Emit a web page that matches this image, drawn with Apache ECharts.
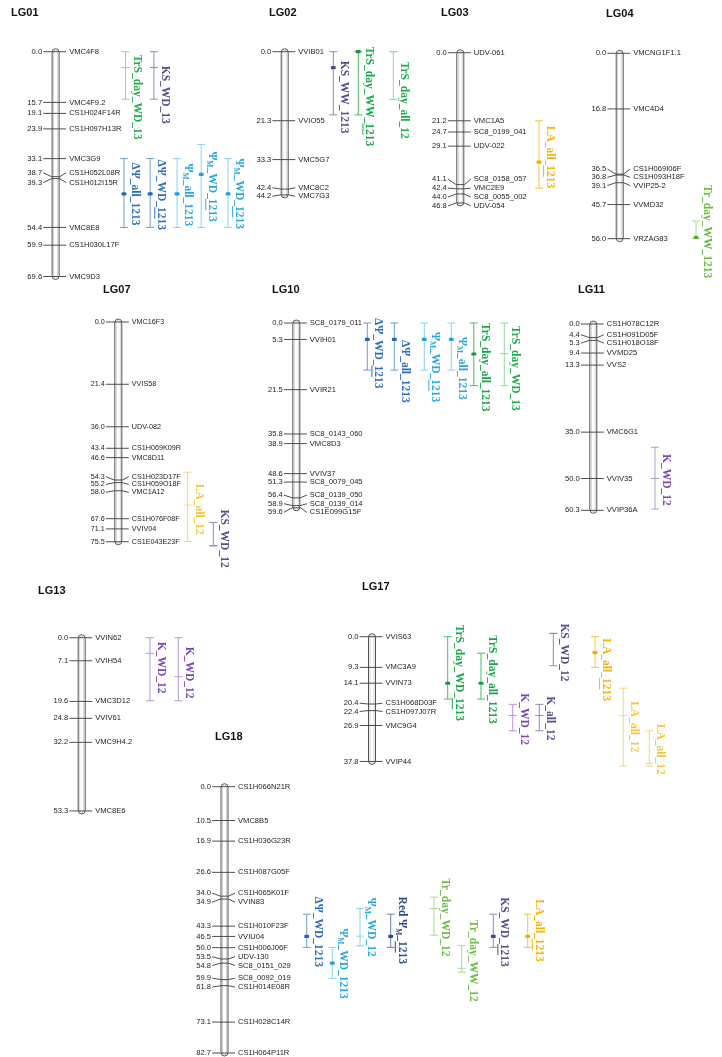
<!DOCTYPE html>
<html><head><meta charset="utf-8">
<script src="https://cdn.jsdelivr.net/npm/echarts@6/dist/echarts.min.js"></script>
<style>html,body{margin:0;padding:0;background:#fff}#c{width:722px;height:1057px}</style>
</head><body><div id="c"></div>
<script>
// ---------------- DATA ----------------
const LG_NAMES = ['LG01','LG02','LG03','LG04','LG07','LG10','LG11','LG13','LG17','LG18'];

const LG01_pos = [0.0,15.7,19.1,23.9,33.1,38.7,39.3,54.4,59.9,69.6];
const LG01_mk  = ['VMC4F8','VMC4F9.2','CS1H024F14R','CS1H097H13R','VMC3G9','CS1H052L08R','CS1H012I15R','VMC8E8','CS1H030L17F','VMC9D3'];
const LG01_qtl = [['TrS_day_WD_13',0.0,4.9,14.7],['KS_WD_13',0.0,4.9,14.7],['ΔΨ_all_1213',33.1,44.0,54.4],['ΔΨ_WD_1213',33.1,44.0,54.4],['ΨM_all_1213',33.1,44.0,54.4],['ΨM_WD_1213',28.7,38.0,54.4],['ΨM_WD_1213',33.1,44.0,54.4]];

const LG02_pos = [0.0,21.3,33.3,42.4,44.2];
const LG02_mk  = ['VVIB01','VVIO55','VMC5G7','VMC8C2','VMC7G3'];
const LG02_qtl = [['KS_WW_1213',0.0,4.9,19.5],['TrS_day_WW_1213',0.0,0.0,19.5],['TrS_day_all_12',0.0,0.0,14.7]];

const LG03_pos = [0.0,21.2,24.7,29.1,41.1,42.4,44.0,46.8];
const LG03_mk  = ['UDV-061','VMC1A5','SC8_0199_041','UDV-022','SC8_0158_057','VMC2E9','SC8_0055_002','UDV-054'];
const LG03_qtl = [['LA_all_1213',21.2,34.1,42.2]];

const LG04_pos = [0.0,16.8,36.5,36.8,39.1,45.7,56.0];
const LG04_mk  = ['VMCNG1F1.1','VMC4D4','CS1H069I06F','CS1H093H18F','VVIP25-2','VVMD32','VRZAG83'];
const LG04_qtl = [['Tr_day_WW_1213',50.7,55.6,56.0]];

const LG07_pos = [0.0,21.4,36.0,43.4,46.6,54.3,55.2,58.0,67.6,71.1,75.5];
const LG07_mk  = ['VMC16F3','VVIS58','UDV-082','CS1H069K09R','VMC8D11','CS1H023D17F','CS1H059O18F','VMC1A12','CS1H076F08F','VVIV04','CS1E043E23F'];
const LG07_qtl = [['LA_all_12',51.6,62.9,75.4],['KS_WD_12',68.9,76.9,76.9]];

const LG10_pos = [0.0,5.3,21.5,35.8,38.9,48.6,51.3,56.4,58.9,59.6];
const LG10_mk  = ['SC8_0179_011','VVIH01','VVIR21','SC8_0143_060','VMC8D3','VVIV37','SC8_0079_045','SC8_0139_050','SC8_0139_014','CS1E099G15F'];
const LG10_qtl = [['ΔΨ_WD_1213',0.0,5.3,15.2],['ΔΨ_all_1213',0.0,5.3,15.2],['ΨM_WD_1213',0.0,5.3,15.2],['ΨM_all_1213',0.0,5.3,15.2],['TrS_day_all_1213',0.0,10.0,20.2],['TrS_day_WD_13',0.0,9.9,20.2]];

const LG11_pos = [0.0,4.4,5.3,9.4,13.3,35.0,50.0,60.3];
const LG11_mk  = ['CS1H078C12R','CS1H091D05F','CS1H018O18F','VVMD25','VVS2','VMC6G1','VVIV35','VVIP36A'];
const LG11_qtl = [['K_WD_12',39.9,50.0,59.9]];

const LG13_pos = [0.0,7.1,19.6,24.8,32.2,53.3];
const LG13_mk  = ['VVIN62','VVIH54','VMC3D12','VVIV61','VMC9H4.2','VMC8E6'];
const LG13_qtl = [['K_WD_12',0.0,4.8,19.4],['K_WD_12',0.0,12.0,19.4]];

const LG17_pos = [0.0,9.3,14.1,20.4,22.4,26.9,37.8];
const LG17_mk  = ['VVIS63','VMC3A9','VVIN73','CS1H068D03F','CS1H097J07R','VMC9G4','VVIP44'];
const LG17_qtl = [['TrS_day_WD_1213',0.0,14.1,18.9],['TrS_day_all_1213',5.0,14.1,18.9],['K_WD_12',20.5,23.9,28.5],['K_all_12',20.5,23.9,28.5],['KS_WD_12',-1.0,-1.0,8.8],['LA_all_1213',0.0,4.8,9.3],['LA_all_12',15.6,23.9,39.2],['LA_all_12',28.5,38.4,39.2]];

const LG18_pos = [0.0,10.5,16.9,26.6,34.0,34.9,43.3,46.5,50.0,53.5,54.8,59.9,61.8,73.1,82.7];
const LG18_mk  = ['CS1H066N21R','VMC8B5','CS1H036G23R','CS1H087G05F','CS1H065K01F','VVIN83','CS1H010F23F','VVIU04','CS1H006J06F','UDV-130','SC8_0151_029','SC8_0092_019','CS1H014E08R','CS1H028C14R','CS1H064P11R'];
const LG18_qtl = [['ΔΨ_WD_1213',39.6,46.5,49.9],['ΨM_WD_1213',49.9,54.8,59.5],['ΨM_WD_12',37.8,46.4,49.4],['Red ΨM_1213',39.6,46.5,49.9],['Tr_day_WD_12',34.3,37.8,46.1],['Tr_day_WW_12',49.4,56.4,57.6],['KS_WD_1213',39.6,46.5,49.9],['LA_all_1213',39.6,46.5,49.9]];

const GROUPS = [
  {name:'LG01',pos:LG01_pos,markers:LG01_mk,qtl:LG01_qtl},
  {name:'LG02',pos:LG02_pos,markers:LG02_mk,qtl:LG02_qtl},
  {name:'LG03',pos:LG03_pos,markers:LG03_mk,qtl:LG03_qtl},
  {name:'LG04',pos:LG04_pos,markers:LG04_mk,qtl:LG04_qtl},
  {name:'LG07',pos:LG07_pos,markers:LG07_mk,qtl:LG07_qtl},
  {name:'LG10',pos:LG10_pos,markers:LG10_mk,qtl:LG10_qtl},
  {name:'LG11',pos:LG11_pos,markers:LG11_mk,qtl:LG11_qtl},
  {name:'LG13',pos:LG13_pos,markers:LG13_mk,qtl:LG13_qtl},
  {name:'LG17',pos:LG17_pos,markers:LG17_mk,qtl:LG17_qtl},
  {name:'LG18',pos:LG18_pos,markers:LG18_mk,qtl:LG18_qtl}
];

// ---------------- LAYOUT (positions / styles) ----------------
// cx: chromosome centre x, y0: top (0 cM) y, k: px per cM, gap: label spacing, fs: marker font size
// qtl: [column offset from chromosome, label offset from bar top, peak drawn as dot, underline]
const LAYOUT = {
  LG01:{cx:32.3,y0:51.7,k:3.23,gap:9.8,fs:7.6,title:[11,13.3],
        qtl:[[75.4,3,false,false],[106,14,false,false],[73.7,4,true,false],[102,1,true,true],[131,5,true,false],[157,7,true,true],[186,0,true,true]]},
  LG02:{cx:284.7,y0:51.7,k:3.24,gap:8.4,fs:7.6,title:[269,13.3],
        qtl:[[48.6,9,true,false],[73.6,-5,true,true],[108.6,10,false,false]]},
  LG03:{cx:460.3,y0:52.7,k:3.21,gap:8.9,fs:7.6,title:[441,13.3],
        qtl:[[78.7,5,true,true]]},
  LG04:{cx:619.7,y0:53.3,k:3.31,gap:8.3,fs:7.6,title:[606,13.5],
        qtl:[[76.3,-36,true,false]]},
  LG07:{cx:118.3,y0:322,k:2.91,gap:7.8,fs:7.2,title:[103,289.5],
        qtl:[[69.4,11.6,false,false],[95,-13,false,false]]},
  LG10:{cx:296.3,y0:323,k:3.10,gap:8.6,fs:7.6,title:[272,289.5],
        qtl:[[71,-5,true,true],[98,17,true,false],[128,9,true,true],[155,14,true,false],[177.5,0,true,false],[208,3,false,false]]},
  LG11:{cx:593.3,y0:324,k:3.09,gap:8.4,fs:7.6,title:[578,289.5],
        qtl:[[61.7,6.7,false,false]]},
  LG13:{cx:81.7,y0:637.7,k:3.25,gap:8.5,fs:7.6,title:[38,591],
        qtl:[[68.3,4,false,false],[96.6,9,false,false]]},
  LG17:{cx:372,y0:636.7,k:3.30,gap:8.3,fs:7.6,title:[362,587.3],
        qtl:[[75.7,-12,true,true],[109,-18,true,false],[140.7,-11,false,false],[167.3,-8,false,false],[181.3,-10,false,false],[223,1.6,true,true],[251.3,13,false,false],[277.3,-7,false,false]]},
  LG18:{cx:224.5,y0:786.7,k:3.22,gap:9,fs:7.6,title:[215,737],
        qtl:[[82.2,-17.6,true,false],[107.8,-19,true,false],[135.5,-10.6,false,false],[166.2,-17.6,true,true],[209.5,-19,false,false],[237.2,-25.7,false,false],[268.8,-17,true,true],[303.2,-15,true,true]]}
};
const CANVAS_W = 722;

const SANS = "'Liberation Sans', Arial, sans-serif";
const SERIF = "'Liberation Serif', 'Times New Roman', serif";
const QFS = 11.5, SUBFS = 7.5, QFW = 'bold';

function qtlColors(name){
  if (name.startsWith('TrS')) return name.endsWith('1213') ? {t:'#19a848',l:'#4cba66',d:'#139a3f'} : {t:'#22ad4d',l:'#95d6a3',d:'#22ad4d'};
  if (name.startsWith('Tr_')) return {t:'#6cbd45',l:'#a9da8e',d:'#5caf36'};
  if (name.startsWith('KS')) return {t:'#5b4a8b',l:'#9486bd',d:'#56457f'};
  if (name.startsWith('K_')) return name.indexOf('WD')>=0 ? {t:'#7a47b6',l:'#b398d7',d:'#7a47b6'} : {t:'#5b4a8b',l:'#9486bd',d:'#5b4a8b'};
  if (name.startsWith('ΔΨ')) return {t:'#2d6fbe',l:'#6d9bd4',d:'#2566b3'};
  if (name.startsWith('Red')) return {t:'#2c4d85',l:'#6a82ab',d:'#2c4d85'};
  if (name.startsWith('Ψ')) return {t:'#29a8e0',l:'#8fd0ef',d:'#22a0dc'};
  if (name.startsWith('LA')) return name.endsWith('1213') ? {t:'#f5b40a',l:'#f6c43c',d:'#f2ab00'} : {t:'#f8c73b',l:'#f9d67c',d:'#f8c73b'};
  return {t:'#333',l:'#999',d:'#333'};
}

const measCtx = document.createElement('canvas').getContext('2d');
function tw(s, size){ measCtx.font = QFW + ' ' + size + 'px ' + SERIF; return measCtx.measureText(s).width; }

// split a QTL name into text pieces: [text, fontSize, isSubscript]
function labelPieces(name){
  const i = name.indexOf('ΨM');
  if (i < 0) return [[name, QFS, false]];
  return [[name.slice(0,i+1), QFS, false], ['M', SUBFS, true], [name.slice(i+2), QFS, false]];
}

function spread(ys, gap){
  let cl = ys.map((y,i)=>({ys:[y], idx:[i], top:y}));
  let changed = true;
  while (changed){
    changed = false;
    for (let c=0;c<cl.length-1;c++){
      const a=cl[c], b=cl[c+1];
      if (a.top + a.ys.length*gap > b.top + 0.01){
        const ys2 = a.ys.concat(b.ys);
        const mean = ys2.reduce((s,v)=>s+v,0)/ys2.length;
        cl.splice(c,2,{ys:ys2, idx:a.idx.concat(b.idx), top: mean-(ys2.length-1)*gap/2});
        changed = true; break;
      }
    }
  }
  const out = [];
  cl.forEach(c=>c.idx.forEach((id,j)=>{ out[id] = c.top + j*gap; }));
  return out;
}

const grids=[], xAxes=[], yAxes=[], series=[], graphics=[];
GROUPS.forEach((g,gi)=>{
  const L = LAYOUT[g.name];
  const len = g.pos[g.pos.length-1];
  const left = L.cx - 60;
  const w = Math.min(380, CANVAS_W - 1 - left);   // 1 x-unit = 1 px
  grids.push({left:left, top:L.y0, width:w, height:len*L.k});
  xAxes.push({gridIndex:gi, type:'value', min:-60, max:-60+w, show:false});
  yAxes.push({gridIndex:gi, type:'value', inverse:true, min:0, max:len, show:false});
  graphics.push({type:'text', x:L.title[0], y:L.title[1], style:{text:g.name, fontSize:11, fontWeight:'bold', fontFamily:SANS, fill:'#111', verticalAlign:'middle'}});

  // chromosome body
  series.push({type:'custom', name:g.name+' chromosome', xAxisIndex:gi, yAxisIndex:gi, silent:true,
    data:[[0,0,len]],
    renderItem:(p,api)=>{
      const a = api.coord([0,0]), b = api.coord([0,len]);
      return {type:'group', children:[
        {type:'rect', shape:{x:a[0]-3.5, y:a[1]-3, width:7, height:b[1]-a[1]+6, r:3.5},
              style:{fill:'#fff', stroke:'#555', lineWidth:1}},
        {type:'rect', shape:{x:a[0]-2, y:a[1]-1.5, width:4, height:b[1]-a[1]+3, r:2},
              style:{fill:null, stroke:'#c8c8c8', lineWidth:0.8}}
      ]};
    }});

  // markers
  series.push({type:'custom', name:g.name+' markers', xAxisIndex:gi, yAxisIndex:gi, silent:true,
    data:g.pos.map(v=>[0,v]),
    renderItem:(p,api)=>{
      const i = p.dataIndex;
      const ys = g.pos.map(v=>api.coord([0,v])[1]);
      const ly = spread(ys, L.gap);
      const c = api.coord([0,g.pos[i]]);
      const cx=c[0], y=c[1], yl=ly[i];
      return {type:'group', children:[
        {type:'polyline', shape:{points:[[cx-12.3,yl],[cx-4,y],[cx+4,y],[cx+10.5,yl]]}, style:{stroke:'#3a3a3a', lineWidth:0.9, fill:null}},
        {type:'text', x:cx-13.5, y:yl, style:{text:g.pos[i].toFixed(1), align:'right', verticalAlign:'middle', fontSize:L.fs, fontFamily:SANS, fill:'#222'}},
        {type:'text', x:cx+13.5, y:yl, style:{text:g.markers[i], align:'left', verticalAlign:'middle', fontSize:L.fs, fontFamily:SANS, fill:'#222'}}
      ]};
    }});

  // QTL intervals
  series.push({type:'custom', name:g.name+' QTL', xAxisIndex:gi, yAxisIndex:gi, silent:true,
    data:g.qtl.map((q,i)=>[L.qtl[i][0], q[1], q[3]]),
    renderItem:(p,api)=>{
      const i = p.dataIndex;
      const q = g.qtl[i], lay = L.qtl[i];
      const col = qtlColors(q[0]);
      const p0 = api.coord([lay[0],q[1]]), pk = api.coord([lay[0],q[2]]), p1 = api.coord([lay[0],q[3]]);
      const x = p0[0];
      const ls = {stroke:col.l, lineWidth:1};
      const ch = [
        {type:'line', shape:{x1:x,y1:p0[1],x2:x,y2:p1[1]}, style:ls},
        {type:'line', shape:{x1:x-4,y1:p0[1],x2:x+4,y2:p0[1]}, style:ls},
        {type:'line', shape:{x1:x-4,y1:p1[1],x2:x+4,y2:p1[1]}, style:ls}
      ];
      if (lay[2]) ch.push({type:'rect', shape:{x:x-2.5,y:pk[1]-1.6,width:5,height:3.2,r:1.2}, style:{fill:col.d}});
      else ch.push({type:'line', shape:{x1:x-4,y1:pk[1],x2:x+4,y2:pk[1]}, style:ls});
      const ty = p0[1] + lay[1];
      let off = 0;
      labelPieces(q[0]).forEach(pc=>{
        ch.push({type:'text', x: pc[2] ? x+7.4 : x+11, y: ty+off, rotation:-Math.PI/2,
          style:{text:pc[0], align:'left', verticalAlign:'middle', fill:col.t, fontSize:pc[1], fontWeight:QFW, fontFamily:SERIF}});
        off += tw(pc[0], pc[1]);
      });
      if (lay[3]){
        const st = off - tw('1213',QFS);
        ch.push({type:'line', shape:{x1:x+4.6,y1:ty+st,x2:x+4.6,y2:ty+st+tw('12',QFS)}, style:{stroke:col.t, lineWidth:1}});
      }
      return {type:'group', children:ch};
    }});
});

const chart = echarts.init(document.getElementById('c'), null, {renderer:'canvas'});
chart.setOption({animation:false, backgroundColor:'#fff', grid:grids, xAxis:xAxes, yAxis:yAxes, series:series, graphic:graphics});
</script></body></html>
